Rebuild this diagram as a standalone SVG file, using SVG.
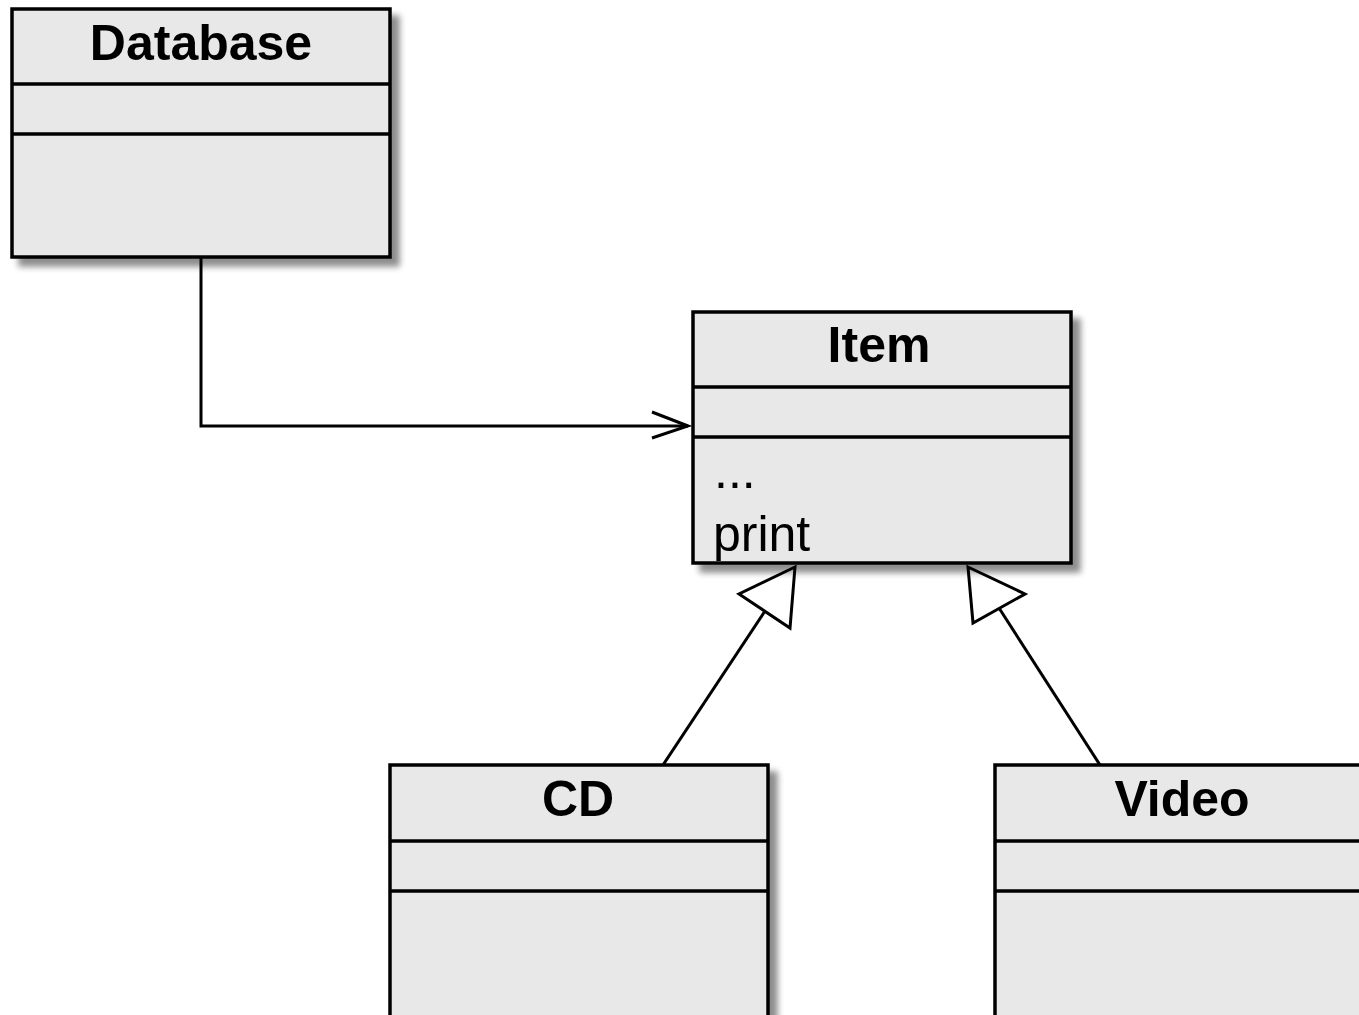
<svg xmlns="http://www.w3.org/2000/svg" width="1359" height="1015" viewBox="0 0 1359 1015">
<style>
.box{fill:#e8e8e8;stroke:#000;stroke-width:3.5}
.div{stroke:#000;stroke-width:3.5}
.title{font-family:"Liberation Sans",Arial,sans-serif;font-weight:bold;font-size:50px;text-anchor:middle;fill:#000}
.op{font-family:"Liberation Sans",Arial,sans-serif;font-size:50px;fill:#000}
.conn{fill:none;stroke:#000;stroke-width:3}
</style>
<defs>
<filter id="sh" x="-10%" y="-10%" width="130%" height="130%">
<feGaussianBlur in="SourceAlpha" stdDeviation="3"/>
<feOffset dx="8" dy="8" result="b"/>
<feComponentTransfer><feFuncA type="linear" slope="0.45"/></feComponentTransfer>
<feMerge><feMergeNode/><feMergeNode in="SourceGraphic"/></feMerge>
</filter>
</defs>
<rect width="1359" height="1015" fill="#fff"/>
<g id="connectors">
<polyline class="conn" points="201,257 201,426 688,426"/>
<polyline class="conn" points="652,412 688,426 652,438"/>
<line class="conn" x1="663" y1="765" x2="765" y2="611"/>
<polygon class="conn" points="795,567 739,594 790,628" fill="#fff"/>
<line class="conn" x1="1100" y1="765" x2="999" y2="608"/>
<polygon class="conn" points="968,567 1025,594 973,623" fill="#fff"/>
</g>
<g id="database">
<rect class="box" x="12" y="9" width="378" height="248" filter="url(#sh)"/>
<line class="div" x1="12" y1="84" x2="390" y2="84"/>
<line class="div" x1="12" y1="134" x2="390" y2="134"/>
<text class="title" x="201" y="60">Database</text>
</g>
<g id="item">
<rect class="box" x="693" y="312" width="378" height="251" filter="url(#sh)"/>
<line class="div" x1="693" y1="387" x2="1071" y2="387"/>
<line class="div" x1="693" y1="437" x2="1071" y2="437"/>
<text class="title" x="879" y="362">Item</text>
<text class="op" x="714" y="488">...</text>
<text class="op" x="713" y="551">print</text>
</g>
<g id="cd">
<rect class="box" x="390" y="765" width="378" height="260" filter="url(#sh)"/>
<line class="div" x1="390" y1="841" x2="768" y2="841"/>
<line class="div" x1="390" y1="891" x2="768" y2="891"/>
<text class="title" x="578" y="816">CD</text>
</g>
<g id="video">
<rect class="box" x="995" y="765" width="378" height="260" filter="url(#sh)"/>
<line class="div" x1="995" y1="841" x2="1373" y2="841"/>
<line class="div" x1="995" y1="891" x2="1373" y2="891"/>
<text class="title" x="1182" y="816">Video</text>
</g>
</svg>
